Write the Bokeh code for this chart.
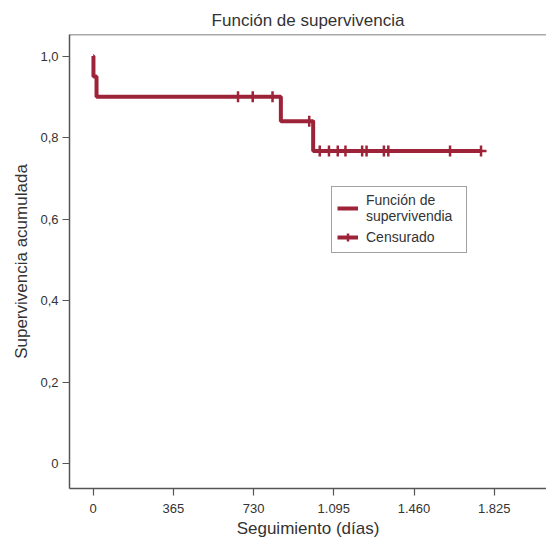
from bokeh.plotting import figure
from bokeh.models import Range1d, FixedTicker, Legend, LegendItem, Span
from bokeh.embed import file_html
from bokeh.resources import INLINE

# Kaplan-Meier step data (days, cumulative survival)
step_times = [0, 1, 15, 854, 1001, 1765]
step_surv = [1.0, 0.95, 0.90, 0.84, 0.767, 0.767]

# censored observations
cens_times = [659, 726, 816, 983, 1031, 1073, 1113, 1148, 1224, 1244, 1323, 1343, 1624, 1765]
cens_surv = [0.90, 0.90, 0.90, 0.84, 0.767, 0.767, 0.767, 0.767, 0.767, 0.767, 0.767, 0.767, 0.767, 0.767]

x_ticks = [0, 365, 730, 1095, 1460, 1825]
x_tick_labels = ["0", "365", "730", "1.095", "1.460", "1.825"]
y_ticks = [0, 0.2, 0.4, 0.6, 0.8, 1.0]
y_tick_labels = ["0", "0,2", "0,4", "0,6", "0,8", "1,0"]

RED = "#9d2338"
GRAY = "#555555"
TXT = "#333333"
FONT = "Liberation Sans"

p = figure(frame_width=477, frame_height=454, output_backend="svg", toolbar_location=None,
           x_range=Range1d(-108, 2063), y_range=Range1d(-0.061, 1.053),
           min_border_left=69, min_border_right=0, min_border_top=34, min_border_bottom=0,
           title="Función de supervivencia")
p.title.align = "center"
p.title.text_font = FONT
p.title.text_font_size = "17px"
p.title.text_font_style = "normal"
p.title.text_color = TXT
p.title.offset = 4

p.outline_line_color = None
p.xgrid.visible = False
p.ygrid.visible = False
p.background_fill_color = "white"
p.border_fill_color = "white"

top_line = Span(location=1.053, dimension="width", line_color=GRAY, line_width=1.5)
p.add_layout(top_line)

for ax in (p.xaxis[0], p.yaxis[0]):
    ax.axis_line_color = GRAY
    ax.axis_line_width = 1.5
    ax.major_tick_line_color = GRAY
    ax.major_tick_line_width = 1.2
    ax.major_tick_out = 7
    ax.major_tick_in = 0
    ax.minor_tick_line_color = None
    ax.major_label_text_font = FONT
    ax.major_label_text_font_size = "13px"
    ax.major_label_text_color = TXT
    ax.axis_label_text_font = FONT
    ax.axis_label_text_font_size = "17px"
    ax.axis_label_text_font_style = "normal"
    ax.axis_label_text_color = TXT

p.xaxis.ticker = FixedTicker(ticks=x_ticks)
p.xaxis.major_label_overrides = {t: l for t, l in zip(x_ticks, x_tick_labels)}
p.yaxis.ticker = FixedTicker(ticks=y_ticks)
p.yaxis.major_label_overrides = {t: l for t, l in zip(y_ticks, y_tick_labels)}
p.xaxis.axis_label = "Seguimiento (días)"
p.yaxis.axis_label = "Supervivencia acumulada"
p.xaxis.major_label_standoff = 8
p.yaxis.major_label_standoff = 4
p.xaxis.axis_label_standoff = 3
p.yaxis.axis_label_standoff = 6

step_r = p.step(step_times, step_surv, mode="after", line_color=RED, line_width=4)
cens_r = p.scatter(cens_times, cens_surv, marker="cross", size=11,
                   line_color=RED, line_width=2.5)
cens_line = p.line([1765, 1765], [0.767, 0.767], line_color=RED, line_width=4)

legend = Legend(items=[
    LegendItem(label="Función de\nsupervivendia", renderers=[step_r]),
    LegendItem(label="Censurado", renderers=[cens_line, cens_r]),
], location=(262, 235))
legend.border_line_color = "#444444"
legend.border_line_width = 1
legend.label_text_font = FONT
legend.label_text_font_size = "14px"
legend.label_text_line_height = 1.0
legend.label_text_color = TXT
legend.glyph_width = 21
legend.label_width = 95
legend.label_standoff = 8
legend.padding = 5
legend.spacing = 3
legend.margin = 0
p.add_layout(legend, "center")

open("out.html", "w").write(file_html(p, INLINE))
